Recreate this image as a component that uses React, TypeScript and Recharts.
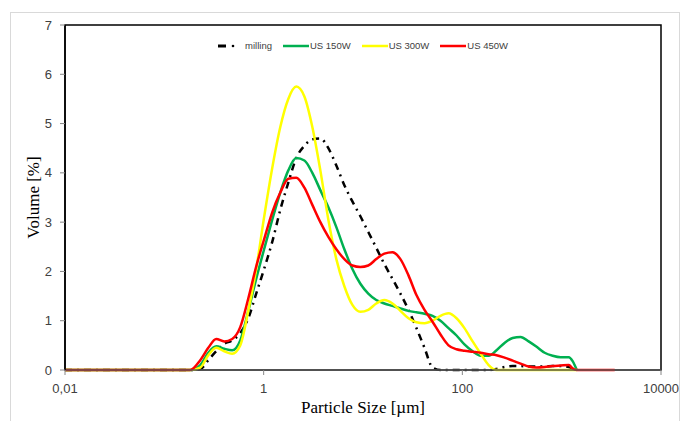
import React from 'react';
import { LineChart, Line, XAxis, YAxis, Legend, ReferenceArea } from 'recharts';

// particle size classes (µm)
const sizes = [
  0.01, 0.182, 0.23, 0.277, 0.333, 0.401, 0.482, 0.581, 0.7, 0.841,
  1.01, 1.22, 1.47, 1.77, 2.13, 2.57, 3.09, 3.72, 4.48, 5.39,
  6.49, 7.82, 9.41, 11.3, 13.6, 16.4, 19.8, 23.8, 28.7, 34.5,
  41.6, 50.1, 60.3, 72.6, 87.4, 105, 127, 153, 184, 221,
  266, 321, 386, 465, 560, 674, 811, 977, 1180, 1290,
  1420, 3420,
];

// volume [%]
const milling = [
  0, 0, 0.02, 0.2, 0.38, 0.53, 0.6, 0.75, 1.05, 1.55,
  2.05, 2.6, 3.25, 3.8, 4.3, 4.55, 4.68, 4.7, 4.5, 4.15,
  3.75, 3.42, 3.12, 2.8, 2.48, 2.15, 1.85, 1.55, 1.22, 0.85,
  0.45, 0.05, 0, 0, 0, 0, 0, 0, 0, 0.02,
  0.06, 0.08, 0.08, 0.07, 0.07, 0.07, 0.08, 0.08, 0.06, 0.03,
  0, null,
];
const us150 = [
  0, 0, 0.1, 0.35, 0.48, 0.43, 0.4, 0.6, 1.2, 1.85,
  2.45, 3.05, 3.6, 4.05, 4.3, 4.25, 4.0, 3.65, 3.3, 2.9,
  2.45, 2.05, 1.75, 1.55, 1.42, 1.35, 1.3, 1.25, 1.2, 1.17,
  1.14, 1.1, 1.0, 0.85, 0.7, 0.52, 0.38, 0.29, 0.29, 0.4,
  0.55, 0.65, 0.67, 0.58, 0.47, 0.35, 0.29, 0.26, 0.26, 0.18,
  0, null,
];
const us300 = [
  0, 0, 0.05, 0.3, 0.45, 0.38, 0.33, 0.5, 1.2, 2.05,
  3.1, 4.1, 4.93, 5.5, 5.75, 5.55, 4.93, 4.05, 3.05, 2.25,
  1.7, 1.32, 1.18, 1.22, 1.35, 1.42, 1.35, 1.2, 1.05, 0.97,
  0.95, 1.0, 1.1, 1.15, 1.05, 0.85, 0.58, 0.33, 0.1, 0,
  0, 0, 0, 0, 0, 0, 0, 0, 0, 0,
  0, null,
];
const us450 = [
  0, 0, 0.2, 0.45, 0.63, 0.58, 0.63, 0.87, 1.45, 2.1,
  2.65, 3.2, 3.6, 3.88, 3.9, 3.7, 3.35, 3.0, 2.7, 2.45,
  2.25, 2.12, 2.09, 2.12, 2.25, 2.36, 2.39, 2.25, 1.92, 1.52,
  1.22, 0.98, 0.72, 0.5, 0.42, 0.39, 0.37, 0.35, 0.32, 0.3,
  0.25, 0.19, 0.13, 0.07, 0.05, 0.06, 0.08, 0.09, 0.1, 0.03,
  0, 0,
];

const seriesNames = ['milling', 'US 150W', 'US 300W', 'US 450W'];
const xTicks = [0.01, 1, 100, 10000];
const yTicks = [0, 1, 2, 3, 4, 5, 6, 7];

const data = sizes.map((size, i) => ({
  size,
  milling: milling[i],
  us150: us150[i],
  us300: us300[i],
  us450: us450[i],
}));

const tickFont = { fontFamily: '"Liberation Sans", Arial, sans-serif', fontSize: 13, fill: '#404040' };
const titleFont = { fontFamily: '"Liberation Serif", "Times New Roman", serif', fontSize: 17, fill: '#000' };

const renderLegend = (props: any) => {
  const payload = [...props.payload].sort(
    (a: any, b: any) => seriesNames.indexOf(a.value) - seriesNames.indexOf(b.value)
  );
  return (
    <div
      style={{
        display: 'flex',
        justifyContent: 'center',
        alignItems: 'center',
        gap: 11,
        fontFamily: '"Liberation Sans", Arial, sans-serif',
        fontSize: 9.5,
        color: '#404040',
      }}
    >
      {payload.map((entry: any) => {
        const dashed = entry.value === 'milling';
        return (
          <div key={entry.value} style={{ display: 'flex', alignItems: 'center' }}>
            <svg width={dashed ? 18 : 26} height={6}>
              {dashed ? (
                <>
                  <line x1={0} y1={3} x2={8} y2={3} stroke="#000" strokeWidth={3} />
                  <circle cx={15} cy={3} r={1.3} fill="#000" />
                </>
              ) : (
                <line x1={0} y1={3} x2={26} y2={3} stroke={entry.color} strokeWidth={2.5} />
              )}
            </svg>
            <span style={{ marginLeft: dashed ? 9 : 1 }}>{entry.value}</span>
          </div>
        );
      })}
    </div>
  );
};

export default function App() {
  return (
    <div style={{ position: 'absolute', left: 0, top: 0, width: 680, height: 421, background: '#fff', overflow: 'hidden' }}>
      <div
        style={{
          position: 'absolute',
          left: 10,
          top: 12,
          width: 668,
          height: 430,
          border: '1px solid #d9d9d9',
        }}
      />
      <div style={{ position: 'absolute', left: 0, top: 0 }}>
        <LineChart width={680} height={421} data={data} margin={{ top: 25, right: 19, left: 10, bottom: 6 }}>
          <XAxis
            dataKey="size"
            type="number"
            scale="log"
            domain={[0.01, 10000]}
            ticks={xTicks}
            allowDataOverflow
            height={45}
            tickSize={5}
            tickMargin={9}
            tick={tickFont}
            tickFormatter={(v: number) => String(v).replace('.', ',')}
            axisLine={{ stroke: '#595959', strokeWidth: 1.5 }}
            tickLine={{ stroke: '#868686' }}
            label={{ value: 'Particle Size [µm]', position: 'insideBottom', offset: 2, style: titleFont }}
          />
          <YAxis
            type="number"
            domain={[0, 7]}
            ticks={yTicks}
            width={55}
            tickSize={5}
            tickMargin={8}
            tick={tickFont}
            axisLine={{ stroke: '#000', strokeWidth: 1.5 }}
            tickLine={{ stroke: '#868686' }}
            label={{ value: 'Volume [%]', angle: -90, position: 'insideLeft', offset: 23, style: { ...titleFont, textAnchor: 'middle' } }}
          />
          <ReferenceArea
            x1={0.01}
            x2={10000}
            y1={0}
            y2={7}
            fill="none"
            stroke="#000"
            strokeWidth={1.5}
            ifOverflow="visible"
          />
          <Legend
            layout="horizontal"
            verticalAlign="middle"
            content={renderLegend}
            wrapperStyle={{ position: 'absolute', top: 40, left: 65, width: 596 }}
          />
          <Line
            type="monotone"
            dataKey="milling"
            name="milling"
            stroke="#000"
            strokeWidth={2.5}
            strokeDasharray="7 5 2 5"
            dot={false}
            isAnimationActive={false}
          />
          <Line
            type="monotone"
            dataKey="us150"
            name="US 150W"
            stroke="#00b050"
            strokeWidth={2.5}
            dot={false}
            isAnimationActive={false}
          />
          <Line
            type="monotone"
            dataKey="us300"
            name="US 300W"
            stroke="#ffff00"
            strokeWidth={2.5}
            dot={false}
            isAnimationActive={false}
          />
          <Line
            type="monotone"
            dataKey="us450"
            name="US 450W"
            stroke="#ff0000"
            strokeWidth={2.5}
            dot={false}
            isAnimationActive={false}
          />
        </LineChart>
      </div>
    </div>
  );
}
